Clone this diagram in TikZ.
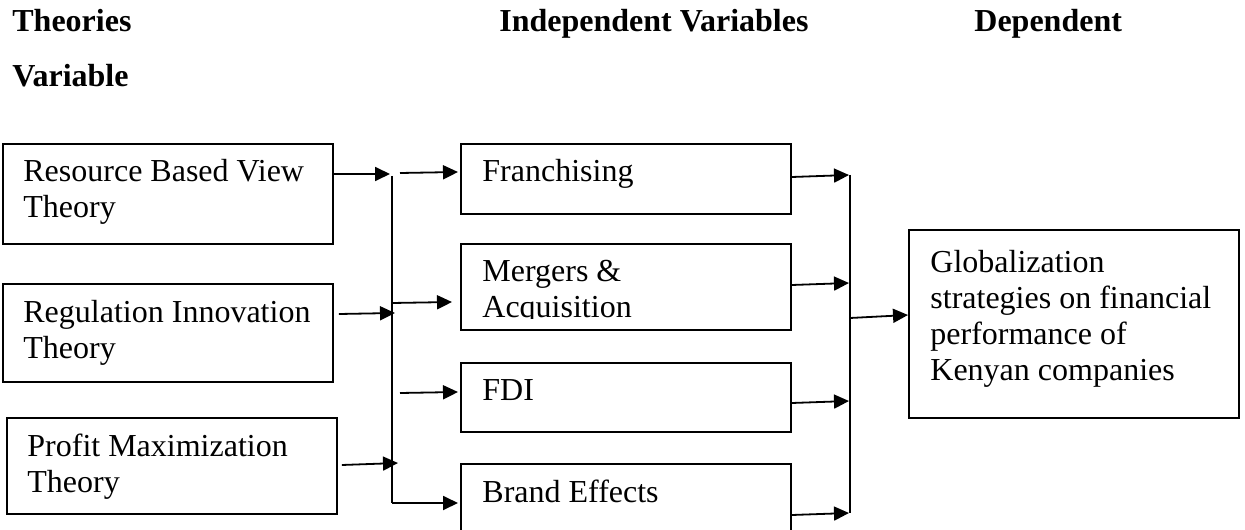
\documentclass[tikz,border=0pt]{standalone}
\usepackage{fontspec}
\setmainfont{Liberation Serif}
\usetikzlibrary{arrows.meta}

\begin{document}
\begin{tikzpicture}[x=0.5pt,y=-0.5pt]
    \tikzstyle{every node}+=[inner sep=0pt,font=\fontsize{16}{18}\selectfont]
    \tikzstyle{box}=[draw,line width=0.9pt,anchor=north west,minimum width=165pt]
    \tikzstyle{txt}=[anchor=base west,align=left]
    \tikzstyle{head}=[anchor=base west,font=\fontsize{16}{18}\selectfont\bfseries]
    \tikzstyle{arr}=[line width=0.9pt,-{Triangle[length=7.5pt,width=7pt]}]
    \useasboundingbox (0,0) rectangle (1245,529);
    \node [head] (hth) at (12,32) {Theories};
    \node [head] (hiv) at (499,32) {Independent Variables};
    \node [head] (hdv) at (974,32) {Dependent};
    \node [head] (hdv2) at (12,87) {Variable};
    \node [box,minimum height=50pt] (rbv) at (2,143) {};
    \node [txt] (rbvt) at (23,218) {Resource Based View\\Theory};
    \node [box,minimum height=49pt] (riv) at (2,283) {};
    \node [txt] (rivt) at (23,358) {Regulation Innovation\\Theory};
    \node [box,minimum height=48pt] (pm) at (6,417) {};
    \node [txt] (pmt) at (27,492) {Profit Maximization\\Theory};
    \node [box,minimum height=35pt] (fran) at (460,143) {};
    \node [txt] (frant) at (482,182) {Franchising};
    \node [box,minimum height=43pt] (merg) at (460,243) {};
    \begin{scope}
    \clip (460,243) rectangle (790,318);
    \node [txt] (mergt) at (482,317) {Mergers \&\\Acquisition};
    \end{scope}
    \node [box,minimum height=34.5pt] (fdi) at (460,362) {};
    \node [txt] (fdit) at (482,400) {FDI};
    \node [box,minimum height=42pt] (brand) at (460,463) {};
    \node [txt] (brandt) at (482,502) {Brand Effects};
    \node [box,minimum height=94pt] (goal) at (908,229) {};
    \node [txt] (goalt) at (930,380) {Globalization\\strategies on financial\\performance of\\Kenyan companies};
    \coordinate (lbt) at (392,176);
    \coordinate (lbb) at (392,503);
    \coordinate (lin1) at (390,174);
    \coordinate (lin2) at (395,313);
    \coordinate (lin3) at (398,463);
    \coordinate (lout1) at (400,173);
    \coordinate (lj2) at (392,303);
    \coordinate (lout3) at (400,393);
    \coordinate (rbt) at (850,175);
    \coordinate (rbb) at (850,513);
    \coordinate (rj) at (850,318);
    \draw [line width=0.9pt] (lbt) -- (lbb);
    \draw [arr] (rbv.east |- lin1) -- (lin1);
    \draw [arr] ([xshift=2.5pt]riv.east |- 0,314) -- (lin2);
    \draw [arr] ([xshift=2pt]pm.east |- 0,465) -- (lin3);
    \draw [arr] (lout1) -- ([xshift=-1pt]fran.west |- 0,172);
    \draw [arr] (lj2) -- ([xshift=-4pt]merg.west |- 0,302);
    \draw [arr] (lout3) -- ([xshift=-1pt]fdi.west |- 0,392);
    \draw [arr] (lbb) -- ([xshift=-1pt]brand.west |- lbb);
    \draw [line width=0.9pt] (rbt) -- (rbb);
    \draw [arr] (fran.east |- 0,177) -- ([xshift=-0.5pt]rbt);
    \draw [arr] (merg.east |- 0,285) -- (849,283);
    \draw [arr] (fdi.east |- 0,403) -- (849,401);
    \draw [arr] (brand.east |- 0,515) -- ([xshift=-0.5pt]rbb);
    \draw [arr] (rj) -- (goal.west |- 0,315);
\end{tikzpicture}
\end{document}
